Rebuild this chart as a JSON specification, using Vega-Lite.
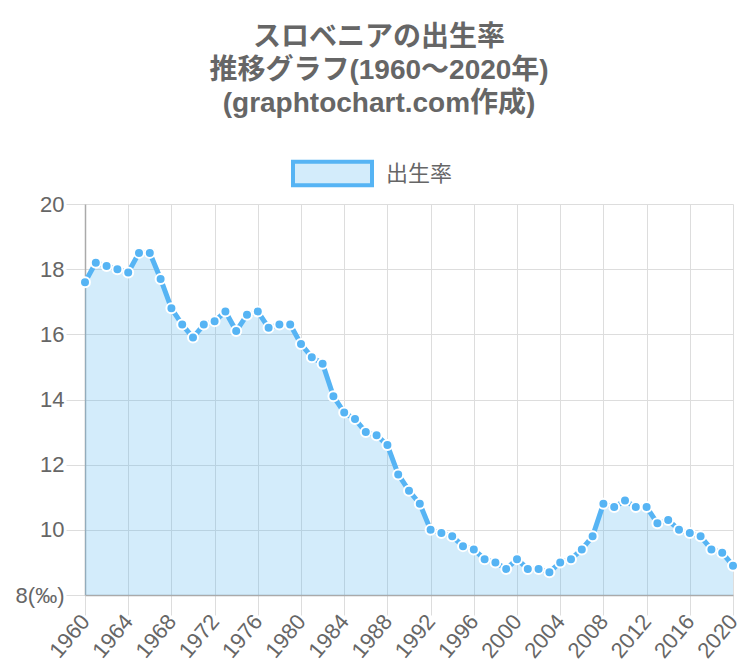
{
  "$schema": "https://vega.github.io/schema/vega-lite/v6.json",
  "width": 648,
  "height": 391,
  "autosize": {"type": "none"},
  "padding": {"left": 85, "top": 204, "right": 17, "bottom": 71},
  "background": "white",
  "title": {
    "text": ["スロベニアの出生率", "推移グラフ(1960〜2020年)", "(graphtochart.com作成)"],
    "fontSize": 28,
    "lineHeight": 33,
    "font": "Liberation Sans, Noto Sans CJK JP",
    "fontWeight": "bold",
    "color": "#666666",
    "anchor": "middle",
    "frame": "bounds",
    "offset": 14
  },
  "config": {
    "view": {"stroke": null},
    "font": "Liberation Sans, Noto Sans CJK JP",
    "axis": {
      "labelColor": "#666666",
      "labelFontSize": 22,
      "gridColor": "#dddddd",
      "tickColor": "#dddddd",
      "domainColor": "#aaaaaa",
      "domainWidth": 1.5,
      "title": null
    }
  },
  "data": {
    "values": [
      {"year": 1960, "rate": 17.6}, {"year": 1961, "rate": 18.2}, {"year": 1962, "rate": 18.1},
      {"year": 1963, "rate": 18.0}, {"year": 1964, "rate": 17.9}, {"year": 1965, "rate": 18.5},
      {"year": 1966, "rate": 18.5}, {"year": 1967, "rate": 17.7}, {"year": 1968, "rate": 16.8},
      {"year": 1969, "rate": 16.3}, {"year": 1970, "rate": 15.9}, {"year": 1971, "rate": 16.3},
      {"year": 1972, "rate": 16.4}, {"year": 1973, "rate": 16.7}, {"year": 1974, "rate": 16.1},
      {"year": 1975, "rate": 16.6}, {"year": 1976, "rate": 16.7}, {"year": 1977, "rate": 16.2},
      {"year": 1978, "rate": 16.3}, {"year": 1979, "rate": 16.3}, {"year": 1980, "rate": 15.7},
      {"year": 1981, "rate": 15.3}, {"year": 1982, "rate": 15.1}, {"year": 1983, "rate": 14.1},
      {"year": 1984, "rate": 13.6}, {"year": 1985, "rate": 13.4}, {"year": 1986, "rate": 13.0},
      {"year": 1987, "rate": 12.9}, {"year": 1988, "rate": 12.6}, {"year": 1989, "rate": 11.7},
      {"year": 1990, "rate": 11.2}, {"year": 1991, "rate": 10.8}, {"year": 1992, "rate": 10.0},
      {"year": 1993, "rate": 9.9}, {"year": 1994, "rate": 9.8}, {"year": 1995, "rate": 9.5},
      {"year": 1996, "rate": 9.4}, {"year": 1997, "rate": 9.1}, {"year": 1998, "rate": 9.0},
      {"year": 1999, "rate": 8.8}, {"year": 2000, "rate": 9.1}, {"year": 2001, "rate": 8.8},
      {"year": 2002, "rate": 8.8}, {"year": 2003, "rate": 8.7}, {"year": 2004, "rate": 9.0},
      {"year": 2005, "rate": 9.1}, {"year": 2006, "rate": 9.4}, {"year": 2007, "rate": 9.8},
      {"year": 2008, "rate": 10.8}, {"year": 2009, "rate": 10.7}, {"year": 2010, "rate": 10.9},
      {"year": 2011, "rate": 10.7}, {"year": 2012, "rate": 10.7}, {"year": 2013, "rate": 10.2},
      {"year": 2014, "rate": 10.3}, {"year": 2015, "rate": 10.0}, {"year": 2016, "rate": 9.9},
      {"year": 2017, "rate": 9.8}, {"year": 2018, "rate": 9.4}, {"year": 2019, "rate": 9.3},
      {"year": 2020, "rate": 8.9}
    ]
  },
  "encoding": {
    "x": {
      "field": "year",
      "type": "quantitative",
      "scale": {"domain": [1960, 2020], "nice": false, "zero": false},
      "axis": {
        "values": [1960, 1964, 1968, 1972, 1976, 1980, 1984, 1988, 1992, 1996, 2000, 2004, 2008, 2012, 2016, 2020],
        "format": "d",
        "labelAngle": -50,
        "labelAlign": "right",
        "labelBaseline": "middle",
        "tickSize": 20,
        "labelPadding": 2,
        "labelFlush": false,
        "labelOverlap": false
      }
    },
    "y": {
      "field": "rate",
      "type": "quantitative",
      "scale": {"domain": [8, 20], "nice": false, "zero": false},
      "axis": {
        "values": [8, 10, 12, 14, 16, 18, 20],
        "labelExpr": "datum.value == 8 ? '8(‰)' : datum.label",
        "tickSize": 19,
        "labelPadding": 2
      }
    }
  },
  "layer": [
    {
      "mark": {"type": "area", "fill": "#4fb3f0", "fillOpacity": 0.25},
      "encoding": {
        "y2": {"datum": 8},
        "color": {
          "datum": "出生率",
          "scale": {"range": ["#d3ecfb"]},
          "legend": {
            "orient": "none",
            "legendX": 206,
            "legendY": -72,
            "title": null,
            "symbolType": "M-1,-0.3L1,-0.3L1,0.3L-1,0.3Z",
            "symbolSize": 6241,
            "symbolFillColor": "#d3ecfb",
            "symbolStrokeColor": "#56b4f4",
            "symbolStrokeWidth": 4,
            "symbolOpacity": 1,
            "labelFontSize": 22,
            "labelColor": "#666666",
            "labelOffset": 12
          }
        }
      }
    },
    {
      "mark": {"type": "line", "color": "#56b4f4", "strokeWidth": 5}
    },
    {
      "mark": {"type": "point", "filled": true, "fill": "#56b4f4", "stroke": "white", "strokeWidth": 2, "size": 100, "opacity": 1}
    }
  ]
}
